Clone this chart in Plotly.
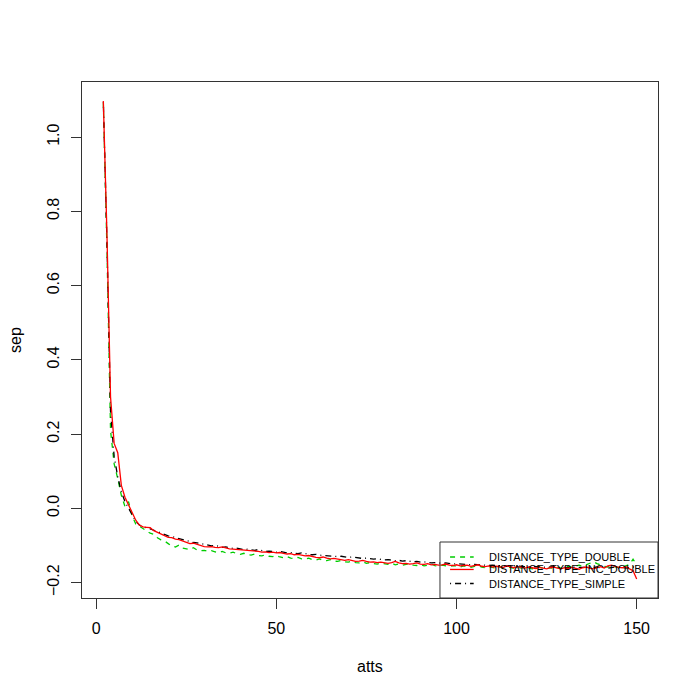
import plotly.graph_objects as go

# x values (number of attributes)
atts = list(range(2, 151))

# DISTANCE_TYPE_DOUBLE
sep_double = [
    1.092, 0.700, 0.210, 0.120, 0.080, 0.035, 0.005, 0.018, -0.020, -0.042,
    -0.048, -0.055, -0.062, -0.067, -0.070, -0.079, -0.085, -0.088, -0.095, -0.102,
    -0.104, -0.099, -0.107, -0.109, -0.111, -0.106, -0.112, -0.114, -0.113, -0.116,
    -0.114, -0.117, -0.119, -0.116, -0.120, -0.121, -0.118, -0.122, -0.124, -0.121,
    -0.125, -0.126, -0.123, -0.127, -0.128, -0.125, -0.129, -0.130, -0.127, -0.131,
    -0.133, -0.130, -0.134, -0.135, -0.132, -0.136, -0.137, -0.134, -0.138, -0.139,
    -0.136, -0.140, -0.141, -0.138, -0.142, -0.143, -0.140, -0.144, -0.145, -0.142,
    -0.146, -0.147, -0.144, -0.148, -0.146, -0.149, -0.150, -0.147, -0.150, -0.151,
    -0.148, -0.152, -0.150, -0.153, -0.151, -0.149, -0.153, -0.154, -0.151, -0.155,
    -0.153, -0.150, -0.154, -0.156, -0.153, -0.155, -0.157, -0.154, -0.156, -0.158,
    -0.155, -0.157, -0.159, -0.156, -0.154, -0.158, -0.160, -0.157, -0.159, -0.161,
    -0.158, -0.160, -0.157, -0.159, -0.162, -0.159, -0.161, -0.158, -0.160, -0.163,
    -0.160, -0.158, -0.161, -0.163, -0.160, -0.162, -0.159, -0.161, -0.158, -0.156,
    -0.159, -0.155, -0.153, -0.156, -0.152, -0.148, -0.144, -0.149, -0.153, -0.156,
    -0.158, -0.154, -0.157, -0.160, -0.158, -0.155, -0.151, -0.137, -0.152,
]

# DISTANCE_TYPE_INC_DOUBLE
sep_inc_double = [
    1.097, 0.740, 0.300, 0.175, 0.150, 0.062, 0.030, 0.008, -0.015, -0.032,
    -0.045, -0.050, -0.051, -0.052, -0.060, -0.064, -0.069, -0.073, -0.078, -0.079,
    -0.083, -0.084, -0.088, -0.093, -0.095, -0.094, -0.097, -0.101, -0.103, -0.104,
    -0.103, -0.105, -0.106, -0.104, -0.107, -0.109, -0.110, -0.111, -0.110, -0.112,
    -0.114, -0.113, -0.115, -0.116, -0.118, -0.117, -0.119, -0.118, -0.120, -0.119,
    -0.121, -0.123, -0.122, -0.125, -0.124, -0.126, -0.128, -0.127, -0.130, -0.132,
    -0.133, -0.131, -0.134, -0.136, -0.135, -0.137, -0.139, -0.140, -0.138, -0.141,
    -0.143, -0.142, -0.140, -0.143, -0.145, -0.144, -0.146, -0.145, -0.147, -0.148,
    -0.146, -0.143, -0.147, -0.149, -0.148, -0.150, -0.149, -0.147, -0.150, -0.151,
    -0.149, -0.152, -0.151, -0.153, -0.152, -0.150, -0.153, -0.154, -0.152, -0.155,
    -0.154, -0.153, -0.156, -0.155, -0.152, -0.156, -0.157, -0.155, -0.158, -0.156,
    -0.157, -0.159, -0.155, -0.158, -0.160, -0.157, -0.159, -0.161, -0.158, -0.160,
    -0.162, -0.159, -0.161, -0.163, -0.160, -0.158, -0.161, -0.163, -0.160, -0.162,
    -0.159, -0.161, -0.164, -0.160, -0.158, -0.161, -0.163, -0.160, -0.157, -0.161,
    -0.155, -0.153, -0.157, -0.159, -0.160, -0.157, -0.163, -0.168, -0.190,
]

# DISTANCE_TYPE_SIMPLE
sep_simple = [
    1.095, 0.720, 0.260, 0.140, 0.085, 0.045, 0.018, 0.000, -0.018, -0.035,
    -0.045, -0.050, -0.053, -0.055, -0.059, -0.062, -0.068, -0.071, -0.074, -0.076,
    -0.079, -0.082, -0.085, -0.087, -0.089, -0.092, -0.093, -0.095, -0.098, -0.099,
    -0.101, -0.100, -0.103, -0.105, -0.104, -0.106, -0.108, -0.107, -0.109, -0.111,
    -0.110, -0.112, -0.113, -0.111, -0.114, -0.116, -0.115, -0.117, -0.118, -0.116,
    -0.119, -0.120, -0.119, -0.121, -0.122, -0.120, -0.123, -0.124, -0.125, -0.124,
    -0.126, -0.127, -0.126, -0.128, -0.129, -0.130, -0.129, -0.131, -0.132, -0.131,
    -0.133, -0.134, -0.135, -0.134, -0.136, -0.137, -0.136, -0.138, -0.139, -0.138,
    -0.140, -0.141, -0.140, -0.142, -0.141, -0.143, -0.144, -0.143, -0.145, -0.144,
    -0.146, -0.147, -0.146, -0.147, -0.148, -0.147, -0.149, -0.150, -0.149, -0.150,
    -0.151, -0.150, -0.152, -0.151, -0.152, -0.153, -0.152, -0.154, -0.153, -0.154,
    -0.155, -0.154, -0.155, -0.156, -0.155, -0.156, -0.157, -0.156, -0.157, -0.158,
    -0.157, -0.158, -0.157, -0.159, -0.158, -0.157, -0.159, -0.158, -0.159, -0.160,
    -0.158, -0.159, -0.160, -0.159, -0.158, -0.160, -0.159, -0.158, -0.160, -0.159,
    -0.161, -0.160, -0.158, -0.160, -0.159, -0.161, -0.160, -0.158, -0.160,
]

series_names = ["DISTANCE_TYPE_DOUBLE", "DISTANCE_TYPE_INC_DOUBLE", "DISTANCE_TYPE_SIMPLE"]
x_ticks = [0, 50, 100, 150]
y_ticks = [-0.2, 0.0, 0.2, 0.4, 0.6, 0.8, 1.0]

FONT = "Liberation Sans, Arial, sans-serif"
AXIS_COL = "#333333"

# R palette colours and line types, in legend order
_STYLES = [
    dict(color="#00CD00", width=1.3, dash="5px,5px"),
    dict(color="#FF0000", width=1.3, dash="solid"),
    dict(color="black", width=1.3, dash="1px,4px,6px,4px"),
]


def _r_range(values):
    # base R pads the data range by 4% on each side
    lo, hi = min(values), max(values)
    pad = (hi - lo) * 0.04
    return [lo - pad, hi + pad]


fig = go.Figure()

# red drawn last so it sits on top, as in the original
for idx, ys in [(0, sep_double), (2, sep_simple), (1, sep_inc_double)]:
    fig.add_trace(go.Scatter(
        x=atts, y=ys, mode="lines", name=series_names[idx],
        line=_STYLES[idx], showlegend=False, hoverinfo="skip",
    ))

# Hand-built legend box (base R style, bottom right, transparent)
fig.add_shape(type="rect", xref="paper", yref="paper",
              x0=0.6215, x1=1.0, y0=0.0, y1=0.1085,
              line=dict(color=AXIS_COL, width=1), fillcolor="rgba(0,0,0,0)")
row_y = [0.0795, 0.0553, 0.0281]
for i, name in enumerate(series_names):
    fig.add_shape(type="line", xref="paper", yref="paper",
                  x0=0.639, x1=0.680, y0=row_y[i], y1=row_y[i],
                  line=_STYLES[i])
    fig.add_annotation(x=0.703, y=row_y[i], xref="paper", yref="paper",
                       text=name, showarrow=False, xanchor="left", yanchor="middle",
                       font=dict(size=11, family=FONT, color="black"))

# axis titles
fig.add_annotation(x=0.5, y=-0.1337, xref="paper", yref="paper", text="atts",
                   showarrow=False, xanchor="center", yanchor="middle",
                   font=dict(size=16, family=FONT, color="black"))
fig.add_annotation(x=-0.1163, y=0.5, xref="paper", yref="paper", text="sep",
                   showarrow=False, textangle=-90, xanchor="center", yanchor="middle",
                   font=dict(size=16, family=FONT, color="black"))

axis_common = dict(
    showgrid=False, zeroline=False, showline=True, mirror=True, automargin=False,
    linecolor=AXIS_COL, linewidth=1, ticks="outside", ticklen=10,
    tickcolor=AXIS_COL, tickfont=dict(size=16, color="black", family=FONT),
)

fig.update_layout(
    width=700, height=700,
    paper_bgcolor="white", plot_bgcolor="white",
    font=dict(family=FONT, color="black"),
    margin=dict(l=82, r=42, t=82, b=102),
    xaxis=dict(range=_r_range(atts), tickvals=x_ticks, ticklabelstandoff=6, **axis_common),
    yaxis=dict(
        range=_r_range(sep_double + sep_inc_double + sep_simple),
        tickvals=y_ticks, tickformat=".1f", tickangle=-90, ticklabelstandoff=6,
        **axis_common,
    ),
    showlegend=False,
)

fig.write_html(
    "out.html",
    config={"displayModeBar": False},
    post_script="document.body.style.margin = '0';",
)
